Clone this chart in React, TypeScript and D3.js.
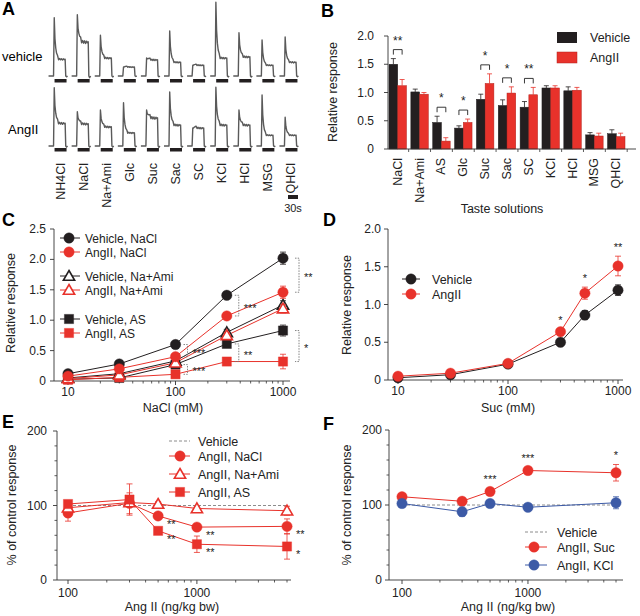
import * as d3 from 'd3';

const FONT = '"Liberation Sans", Arial, Helvetica, sans-serif';
const BLACK = '#231f20';
const RED = '#e8322b';
const BLUE = '#3c5aa6';
const GREY = '#8c8c8c';
const INK = '#222';

// ---- A: example traces (amplitudes in arbitrary units) ----
const TASTES_A = ['NH4Cl', 'NaCl', 'Na+Ami', 'Glc', 'Suc', 'Sac', 'SC', 'KCl', 'HCl', 'MSG', 'QHCl'];
const VEH_PEAK = [0.97, 1.02, 0.68, 0.15, 0.3, 0.75, 0.18, 1.23, 0.72, 0.6, 0.65];
const VEH_PLATEAU = [0.28, 0.57, 0.3, 0.15, 0.27, 0.23, 0.18, 0.3, 0.32, 0.18, 0.23];
const ANG_PEAK = [0.97, 0.57, 0.6, 0.72, 0.6, 0.9, 0.3, 0.98, 0.6, 0.85, 0.48];
const ANG_PLATEAU = [0.38, 0.37, 0.32, 0.22, 0.47, 0.35, 0.3, 0.35, 0.35, 0.18, 0.18];
// trace template: time offset (px), weight of peak, weight of plateau
const TPL_T = [-12, -7, -6.3, -5.6, -4.8, -4, -3, -2, -1, 0, 1, 2, 3, 4, 4.6, 5.2, 6, 7];
const TPL_P = [0, 0, 1, 0.5, 0.25, 0.12, 0.05, 0, 0, 0, 0, 0, 0, 0, 0, 0, 0, 0];
const TPL_Q = [0, 0, 0, 0.5, 0.8, 0.95, 1.05, 0.97, 1.04, 0.96, 1.03, 0.95, 1.02, 0.97, 1.0, 0, -0.05, 0];

// ---- B: bar chart ----
const TASTES_B = ['NaCl', 'Na+Ami', 'AS', 'Glc', 'Suc', 'Sac', 'SC', 'KCl', 'HCl', 'MSG', 'QHCl'];
const VEH_B = [1.5, 1.01, 0.47, 0.37, 0.88, 0.77, 0.74, 1.08, 1.03, 0.25, 0.27];
const VEH_B_ERR = [0.1, 0.05, 0.11, 0.04, 0.09, 0.1, 0.1, 0.04, 0.07, 0.04, 0.07];
const ANG_B = [1.12, 0.97, 0.14, 0.47, 1.16, 0.99, 0.96, 1.08, 1.04, 0.23, 0.22];
const ANG_B_ERR = [0.11, 0.03, 0.06, 0.06, 0.17, 0.11, 0.13, 0.04, 0.05, 0.05, 0.06];
const SIG_B = ['**', '', '*', '*', '*', '*', '**', '', '', '', ''];
const TICKS_B = [0, 0.5, 1, 1.5, 2];

// ---- C: NaCl concentration series ----
const C_X = [10, 30, 100, 300, 1000];
const C_VEH_NACL = [0.12, 0.28, 0.6, 1.41, 2.02];
const C_ANG_NACL = [0.08, 0.2, 0.4, 1.07, 1.46];
const C_VEH_NAAMI = [0.05, 0.12, 0.33, 0.8, 1.25];
const C_ANG_NAAMI = [0.04, 0.1, 0.3, 0.75, 1.19];
const C_VEH_AS = [0.03, 0.05, 0.27, 0.61, 0.83];
const C_ANG_AS = [0.02, 0.06, 0.11, 0.32, 0.32];
const C_ERR = [
  [0.02, 0.03, 0.03, 0.05, 0.1],
  [0.02, 0.02, 0.03, 0.05, 0.1],
  [0.01, 0.02, 0.03, 0.05, 0.07],
  [0.01, 0.02, 0.03, 0.05, 0.07],
  [0.01, 0.02, 0.03, 0.05, 0.09],
  [0.01, 0.02, 0.03, 0.04, 0.12],
];
const C_LABELS = ['Vehicle, NaCl', 'AngII, NaCl', 'Vehicle, Na+Ami', 'AngII, Na+Ami', 'Vehicle, AS', 'AngII, AS'];
const C_TICKS = [0, 0.5, 1, 1.5, 2, 2.5];
const C_BRACKETS = [
  { at: 1000, a: 0, b: 1, mark: '**' },
  { at: 300, a: 0, b: 1, mark: '***' },
  { at: 100, a: 0, b: 1, mark: '***' },
  { at: 100, a: 4, b: 5, mark: '***' },
  { at: 300, a: 4, b: 5, mark: '**' },
  { at: 1000, a: 4, b: 5, mark: '*' },
];

// ---- D: sucrose series ----
const D_X = [10, 30, 100, 300, 500, 1000];
const D_VEH = [0.03, 0.07, 0.21, 0.5, 0.86, 1.19];
const D_VEH_ERR = [0.01, 0.02, 0.02, 0.03, 0.06, 0.07];
const D_ANG = [0.05, 0.09, 0.22, 0.64, 1.15, 1.51];
const D_ANG_ERR = [0.02, 0.02, 0.03, 0.04, 0.08, 0.13];
const D_SIG = ['', '', '', '*', '*', '**'];
const D_TICKS = [0, 0.5, 1, 1.5, 2];

// ---- E / F: Ang II dose series ----
const DOSE = [100, 300, 500, 1000, 5000];
const E_NACL = [90, 103, 86, 71, 72];
const E_NACL_ERR = [11, 14, 4, 4, 10];
const E_NAAMI = [97, 104, 102, 96, 93];
const E_NAAMI_ERR = [3, 5, 3, 3, 6];
const E_AS = [102, 108, 66, 48, 45];
const E_AS_ERR = [4, 21, 4, 11, 17];
const E_SIG_NACL = ['', '', '**', '**', '**'];
const E_SIG_AS = ['', '', '**', '**', '*'];
const F_SUC = [111, 105, 118, 146, 143];
const F_SUC_ERR = [3, 4, 3, 4, 11];
const F_KCL = [102, 91, 102, 97, 103];
const F_KCL_ERR = [3, 6, 3, 3, 8];
const F_SIG_SUC = ['', '', '***', '***', '*'];
const PCT_TICKS = [0, 100, 200];
const PCT_MINOR = [20, 40, 60, 80, 120, 140, 160, 180];

type Shape = 'circle' | 'square' | 'triangle';

function Mark({ shape, x, y, color, open = false }: { shape: Shape; x: number; y: number; color: string; open?: boolean }) {
  const sym = shape === 'circle' ? d3.symbolCircle : shape === 'square' ? d3.symbolSquare : d3.symbolTriangle;
  const size = shape === 'circle' ? 85 : shape === 'square' ? 85 : 55;
  const d = d3.symbol(sym, size)() ?? '';
  return (
    <path
      d={d}
      transform={`translate(${x},${y + (shape === 'triangle' ? 1 : 0)})`}
      fill={open ? 'white' : color}
      stroke={color}
      strokeWidth={open ? 1.6 : 0.4}
    />
  );
}

function ErrBar({ x, y1, y2, color, cap = 3 }: { x: number; y1: number; y2: number; color: string; cap?: number }) {
  return (
    <g stroke={color} strokeWidth={0.8} fill="none">
      <line x1={x} x2={x} y1={y1} y2={y2} />
      <line x1={x - cap} x2={x + cap} y1={y1} y2={y1} />
      <line x1={x - cap} x2={x + cap} y1={y2} y2={y2} />
    </g>
  );
}

function YAxis({
  scale, x, ticks, minor = [], fmt, gap,
}: {
  scale: d3.ScaleLinear<number, number>; x: number; ticks: number[]; minor?: number[];
  fmt: (v: number) => string; gap: number;
}) {
  const [d0, d1] = scale.domain();
  return (
    <g fontFamily={FONT} fontSize={12} fill={INK}>
      <line x1={x} x2={x} y1={scale(d0)} y2={scale(d1)} stroke="#333" strokeWidth={0.9} />
      {ticks.map((t) => (
        <g key={t}>
          <line x1={x - 4} x2={x} y1={scale(t)} y2={scale(t)} stroke="#333" strokeWidth={0.9} />
          <text x={x - gap} y={scale(t) + 4} textAnchor="end">{fmt(t)}</text>
        </g>
      ))}
      {minor.map((t) => (
        <line key={'m' + t} x1={x - 2.5} x2={x} y1={scale(t)} y2={scale(t)} stroke="#333" strokeWidth={0.8} />
      ))}
    </g>
  );
}

function XLogAxis({
  scale, y, x0, x1, majors, minors, labelY,
}: {
  scale: d3.ScaleLogarithmic<number, number>; y: number; x0: number; x1: number;
  majors: number[]; minors: number[]; labelY: number;
}) {
  return (
    <g fontFamily={FONT} fontSize={12} fill={INK}>
      <line x1={x0} x2={x1} y1={y} y2={y} stroke="#333" strokeWidth={0.9} />
      {majors.map((t) => (
        <g key={t}>
          <line x1={scale(t)} x2={scale(t)} y1={y} y2={y + 4} stroke="#333" strokeWidth={0.9} />
          <text x={scale(t)} y={labelY} textAnchor="middle">{t}</text>
        </g>
      ))}
      {minors.map((t) => (
        <line key={'m' + t} x1={scale(t)} x2={scale(t)} y1={y} y2={y + 2.5} stroke="#333" strokeWidth={0.8} />
      ))}
    </g>
  );
}

const fmt1 = (v: number) => (v === 0 ? '0' : v.toFixed(1));
const fmt0 = (v: number) => String(v);

function PanelA() {
  const xA = d3.scaleBand<string>().domain(TASTES_A).range([49, 303]);
  const yVeh = d3.scaleLinear().domain([0, 1]).range([76, 16]);
  const yAng = d3.scaleLinear().domain([0, 1]).range([146, 86]);
  const trace = (cx: number, peak: number, plat: number, y: d3.ScaleLinear<number, number>) =>
    d3.line<number>()
      .x((_, i) => cx + TPL_T[i])
      .y((_, i) => y(peak * TPL_P[i] + plat * TPL_Q[i]))(TPL_T) ?? '';
  return (
    <g>
      <text x={2} y={15} fontFamily={FONT} fontWeight="bold" fontSize={18}>A</text>
      <text x={2} y={61} fontFamily={FONT} fontSize={13}>vehicle</text>
      <text x={8} y={134} fontFamily={FONT} fontSize={13}>AngII</text>
      {TASTES_A.map((t, i) => {
        const cx = (xA(t) ?? 0) + xA.bandwidth() / 2;
        return (
          <g key={t}>
            <path d={trace(cx, VEH_PEAK[i], VEH_PLATEAU[i], yVeh)} fill="none" stroke="#5a5a5a" strokeWidth={1.4} strokeLinejoin="round" />
            <path d={trace(cx, ANG_PEAK[i], ANG_PLATEAU[i], yAng)} fill="none" stroke="#5a5a5a" strokeWidth={1.4} strokeLinejoin="round" />
            <rect x={cx - 6} y={79} width={12} height={3.5} fill={BLACK} />
            <rect x={cx - 6} y={148} width={12} height={3.5} fill={BLACK} />
            <text
              transform={`translate(${cx + 4},163) rotate(-90)`}
              textAnchor="end"
              fontFamily={FONT}
              fontSize={12.5}
              fill={INK}
            >
              {t}
            </text>
          </g>
        );
      })}
      <rect x={288} y={195} width={10} height={4} fill={BLACK} />
      <text x={293} y={212} textAnchor="middle" fontFamily={FONT} fontSize={11} fill={INK}>30s</text>
    </g>
  );
}

function PanelB() {
  const xB = d3.scaleBand<string>().domain(TASTES_B).range([389, 625]).paddingInner(0.2);
  const yB = d3.scaleLinear().domain([0, 2]).range([149, 36]);
  const bw = xB.bandwidth() / 2;
  const step = xB.step();
  return (
    <g>
      <text x={321} y={17} fontFamily={FONT} fontWeight="bold" fontSize={18}>B</text>
      {TASTES_B.map((t, i) => {
        const x0 = xB(t) ?? 0;
        const cv = x0 + bw / 2;
        const ca = x0 + bw * 1.5;
        const topV = yB(VEH_B[i] + VEH_B_ERR[i]);
        const topA = yB(ANG_B[i] + ANG_B_ERR[i]);
        const by = Math.min(topV, topA) - 9;
        return (
          <g key={t}>
            <rect x={x0} y={yB(VEH_B[i])} width={bw} height={yB(0) - yB(VEH_B[i])} fill={BLACK} stroke={BLACK} strokeWidth={0.5} />
            <rect x={x0 + bw} y={yB(ANG_B[i])} width={bw} height={yB(0) - yB(ANG_B[i])} fill={RED} stroke="#b3221c" strokeWidth={0.5} />
            <g stroke={BLACK} strokeWidth={0.8}>
              <line x1={cv} x2={cv} y1={yB(VEH_B[i])} y2={topV} />
              <line x1={cv - 2.5} x2={cv + 2.5} y1={topV} y2={topV} />
            </g>
            <g stroke={RED} strokeWidth={0.8}>
              <line x1={ca} x2={ca} y1={yB(ANG_B[i])} y2={topA} />
              <line x1={ca - 2.5} x2={ca + 2.5} y1={topA} y2={topA} />
            </g>
            {SIG_B[i] && (
              <g>
                <path d={`M${cv},${by + 5}V${by}H${ca}V${by + 5}`} fill="none" stroke={INK} strokeWidth={0.9} />
                <text x={(cv + ca) / 2} y={by - 5} textAnchor="middle" fontFamily={FONT} fontSize={12} fill={INK}>{SIG_B[i]}</text>
              </g>
            )}
            <line x1={x0 + xB.bandwidth() + step * 0.1} x2={x0 + xB.bandwidth() + step * 0.1} y1={149} y2={152} stroke="#333" strokeWidth={0.8} />
            <text transform={`translate(${x0 + xB.bandwidth() / 2 + 4},158) rotate(-90)`} textAnchor="end" fontFamily={FONT} fontSize={12.5} fill={INK}>{t}</text>
          </g>
        );
      })}
      <line x1={388} x2={636} y1={149} y2={149} stroke="#333" strokeWidth={0.9} />
      <YAxis scale={yB} x={388} ticks={TICKS_B} fmt={fmt1} gap={14} />
      <text transform="translate(337,92) rotate(-90)" textAnchor="middle" fontFamily={FONT} fontSize={12.5} fill={INK}>Relative response</text>
      <text x={502} y={213} textAnchor="middle" fontFamily={FONT} fontSize={12.5} fill={INK}>Taste solutions</text>
      <rect x={557} y={32} width={20} height={11} fill={BLACK} />
      <rect x={557} y={52} width={20} height={11} fill={RED} stroke="#b3221c" strokeWidth={0.5} />
      <text x={590} y={42} fontFamily={FONT} fontSize={12.5} fill={INK}>Vehicle</text>
      <text x={590} y={62} fontFamily={FONT} fontSize={12.5} fill={INK}>AngII</text>
    </g>
  );
}

function PanelC() {
  const xC = d3.scaleLog().domain([10, 1000]).range([68, 283]);
  const yC = d3.scaleLinear().domain([0, 2.5]).range([381, 229]);
  const vals = [C_VEH_NACL, C_ANG_NACL, C_VEH_NAAMI, C_ANG_NAAMI, C_VEH_AS, C_ANG_AS];
  const colors = [BLACK, RED, BLACK, RED, BLACK, RED];
  const shapes: Shape[] = ['circle', 'circle', 'triangle', 'triangle', 'square', 'square'];
  const open = [false, false, true, true, false, false];
  const legendY = [238, 252, 276, 290, 319, 333];
  const line = d3.line<number>().x((_, i) => xC(C_X[i])).y((v) => yC(v));
  const order = [4, 5, 2, 3, 0, 1];
  return (
    <g>
      <text x={2} y={226} fontFamily={FONT} fontWeight="bold" fontSize={18}>C</text>
      <YAxis scale={yC} x={54} ticks={C_TICKS} fmt={fmt1} gap={8} />
      <XLogAxis scale={xC} y={381} x0={54} x1={290} majors={[10, 100, 1000]}
        minors={[20, 30, 40, 50, 60, 70, 80, 90, 200, 300, 400, 500, 600, 700, 800, 900]} labelY={396} />
      {order.map((s) => (
        <path key={'l' + s} d={line(vals[s]) ?? ''} fill="none" stroke={colors[s]} strokeWidth={1} />
      ))}
      {order.map((s) => (
        <g key={'p' + s}>
          {vals[s].map((v, i) => (
            <ErrBar key={'e' + i} x={xC(C_X[i])} y1={yC(v + C_ERR[s][i])} y2={yC(v - C_ERR[s][i])} color={colors[s]} />
          ))}
          {vals[s].map((v, i) => (
            <Mark key={i} shape={shapes[s]} x={xC(C_X[i])} y={yC(v)} color={colors[s]} open={open[s]} />
          ))}
        </g>
      ))}
      {C_BRACKETS.map((b, k) => {
        const x = xC(b.at) + (b.at === 1000 ? 16 : 12);
        const i = C_X.indexOf(b.at);
        const y1 = yC(vals[b.a][i]);
        const y2 = yC(vals[b.b][i]);
        return (
          <g key={k}>
            <path d={`M${x - 4},${y1}H${x}V${y2}H${x - 4}`} fill="none" stroke="#777" strokeWidth={0.9} strokeDasharray="1.5,1.2" />
            <text x={x + 5} y={(y1 + y2) / 2 + 6} fontFamily={FONT} fontSize={11} fill={INK}>{b.mark}</text>
          </g>
        );
      })}
      {C_LABELS.map((lab, s) => (
        <g key={lab}>
          <line x1={60} x2={80} y1={legendY[s]} y2={legendY[s]} stroke={colors[s]} strokeWidth={1} />
          <Mark shape={shapes[s]} x={69} y={legendY[s]} color={colors[s]} open={open[s]} />
          <text x={85} y={legendY[s] + 4.5} fontFamily={FONT} fontSize={12} fill={INK}>{lab}</text>
        </g>
      ))}
      <text transform="translate(15,303) rotate(-90)" textAnchor="middle" fontFamily={FONT} fontSize={12.5} fill={INK}>Relative response</text>
      <text x={173} y={412} textAnchor="middle" fontFamily={FONT} fontSize={12.5} fill={INK}>NaCl (mM)</text>
    </g>
  );
}

function PanelD() {
  const xD = d3.scaleLog().domain([10, 1000]).range([398, 618]);
  const yD = d3.scaleLinear().domain([0, 2]).range([380, 229]);
  const line = d3.line<number>().x((_, i) => xD(D_X[i])).y((v) => yD(v));
  const series = [
    { vals: D_VEH, err: D_VEH_ERR, color: BLACK, label: 'Vehicle', ly: 279 },
    { vals: D_ANG, err: D_ANG_ERR, color: RED, label: 'AngII', ly: 294 },
  ];
  return (
    <g>
      <text x={323} y={226} fontFamily={FONT} fontWeight="bold" fontSize={18}>D</text>
      <YAxis scale={yD} x={388} ticks={D_TICKS} fmt={fmt1} gap={7} />
      <XLogAxis scale={xD} y={380} x0={388} x1={623} majors={[10, 100, 1000]}
        minors={[20, 30, 40, 50, 60, 70, 80, 90, 200, 300, 400, 500, 600, 700, 800, 900]} labelY={395} />
      {series.map((s) => (
        <g key={s.label}>
          <path d={line(s.vals) ?? ''} fill="none" stroke={s.color} strokeWidth={1} />
          {s.vals.map((v, i) => (
            <ErrBar key={'e' + i} x={xD(D_X[i])} y1={yD(v + s.err[i])} y2={yD(v - s.err[i])} color={s.color} />
          ))}
          {s.vals.map((v, i) => (
            <Mark key={i} shape="circle" x={xD(D_X[i])} y={yD(v)} color={s.color} />
          ))}
          <line x1={402} x2={420} y1={s.ly} y2={s.ly} stroke={s.color} strokeWidth={1} />
          <Mark shape="circle" x={411} y={s.ly} color={s.color} />
          <text x={432} y={s.ly + 4.5} fontFamily={FONT} fontSize={12.5} fill={INK}>{s.label}</text>
        </g>
      ))}
      {D_SIG.map((m, i) => m && (
        <text key={i} x={xD(D_X[i])} y={yD(D_ANG[i] + D_ANG_ERR[i]) - 5} textAnchor="middle" fontFamily={FONT} fontSize={11} fill={INK}>{m}</text>
      ))}
      <text transform="translate(351,305) rotate(-90)" textAnchor="middle" fontFamily={FONT} fontSize={12.5} fill={INK}>Relative response</text>
      <text x={508} y={412} textAnchor="middle" fontFamily={FONT} fontSize={12.5} fill={INK}>Suc (mM)</text>
    </g>
  );
}

const DOSE_MINORS = [200, 300, 400, 500, 600, 700, 800, 900, 2000, 3000, 4000, 5000];

function PanelE() {
  const xE = d3.scaleLog().domain([100, 5000]).range([68, 287]);
  const yE = d3.scaleLinear().domain([0, 200]).range([580, 431]);
  const line = d3.line<number>().x((_, i) => xE(DOSE[i])).y((v) => yE(v));
  const series = [
    { vals: E_NACL, err: E_NACL_ERR, shape: 'circle' as Shape, open: false, label: 'AngII, NaCl', ly: 456, sig: E_SIG_NACL },
    { vals: E_NAAMI, err: E_NAAMI_ERR, shape: 'triangle' as Shape, open: true, label: 'AngII, Na+Ami', ly: 474, sig: [] as string[] },
    { vals: E_AS, err: E_AS_ERR, shape: 'square' as Shape, open: false, label: 'AngII, AS', ly: 492, sig: E_SIG_AS },
  ];
  return (
    <g>
      <text x={2} y={428} fontFamily={FONT} fontWeight="bold" fontSize={18}>E</text>
      <YAxis scale={yE} x={57} ticks={PCT_TICKS} minor={PCT_MINOR} fmt={fmt0} gap={10} />
      <XLogAxis scale={xE} y={580} x0={57} x1={291} majors={[100, 1000]} minors={DOSE_MINORS} labelY={597} />
      <line x1={xE(100)} x2={xE(5000)} y1={yE(100)} y2={yE(100)} stroke={GREY} strokeWidth={1} strokeDasharray="3,2" />
      {series.map((s) => (
        <g key={s.label}>
          <path d={line(s.vals) ?? ''} fill="none" stroke={RED} strokeWidth={1} />
          {s.vals.map((v, i) => (
            <ErrBar key={'e' + i} x={xE(DOSE[i])} y1={yE(v + s.err[i])} y2={yE(v - s.err[i])} color={RED} />
          ))}
          {s.vals.map((v, i) => (
            <Mark key={i} shape={s.shape} x={xE(DOSE[i])} y={yE(v)} color={RED} open={s.open} />
          ))}
          {s.sig.map((m, i) => m && (
            <text key={'s' + i} x={xE(DOSE[i]) + 9} y={yE(s.vals[i]) + 12} fontFamily={FONT} fontSize={11} fill={INK}>{m}</text>
          ))}
          <line x1={169} x2={190} y1={s.ly} y2={s.ly} stroke={RED} strokeWidth={1} />
          <Mark shape={s.shape} x={180} y={s.ly} color={RED} open={s.open} />
          <text x={198} y={s.ly + 4.5} fontFamily={FONT} fontSize={12.5} fill={INK}>{s.label}</text>
        </g>
      ))}
      <line x1={169} x2={190} y1={441} y2={441} stroke={GREY} strokeWidth={1} strokeDasharray="3,2" />
      <text x={198} y={445.5} fontFamily={FONT} fontSize={12.5} fill={INK}>Vehicle</text>
      <text transform="translate(16,505) rotate(-90)" textAnchor="middle" fontFamily={FONT} fontSize={12.5} fill={INK}>% of control response</text>
      <text x={172} y={611} textAnchor="middle" fontFamily={FONT} fontSize={12.5} fill={INK}>Ang II (ng/kg bw)</text>
    </g>
  );
}

function PanelF() {
  const xF = d3.scaleLog().domain([100, 5000]).range([402, 616]);
  const yF = d3.scaleLinear().domain([0, 200]).range([580, 430]);
  const line = d3.line<number>().x((_, i) => xF(DOSE[i])).y((v) => yF(v));
  const series = [
    { vals: F_SUC, err: F_SUC_ERR, color: RED, label: 'AngII, Suc', ly: 547 },
    { vals: F_KCL, err: F_KCL_ERR, color: BLUE, label: 'AngII, KCl', ly: 565 },
  ];
  return (
    <g>
      <text x={323} y={430} fontFamily={FONT} fontWeight="bold" fontSize={18}>F</text>
      <YAxis scale={yF} x={389} ticks={PCT_TICKS} minor={PCT_MINOR} fmt={fmt0} gap={7} />
      <XLogAxis scale={xF} y={580} x0={389} x1={623} majors={[100, 1000]} minors={DOSE_MINORS} labelY={597} />
      <line x1={xF(100)} x2={xF(5000)} y1={yF(100)} y2={yF(100)} stroke={GREY} strokeWidth={1} strokeDasharray="3,2" />
      {series.map((s) => (
        <g key={s.label}>
          <path d={line(s.vals) ?? ''} fill="none" stroke={s.color} strokeWidth={1} />
          {s.vals.map((v, i) => (
            <ErrBar key={'e' + i} x={xF(DOSE[i])} y1={yF(v + s.err[i])} y2={yF(v - s.err[i])} color={s.color} />
          ))}
          {s.vals.map((v, i) => (
            <Mark key={i} shape="circle" x={xF(DOSE[i])} y={yF(v)} color={s.color} />
          ))}
          <line x1={525} x2={547} y1={s.ly} y2={s.ly} stroke={s.color} strokeWidth={1} />
          <Mark shape="circle" x={534} y={s.ly} color={s.color} />
          <text x={557} y={s.ly + 4.5} fontFamily={FONT} fontSize={12.5} fill={INK}>{s.label}</text>
        </g>
      ))}
      {F_SIG_SUC.map((m, i) => m && (
        <text key={i} x={xF(DOSE[i])} y={yF(F_SUC[i] + F_SUC_ERR[i]) - 6} textAnchor="middle" fontFamily={FONT} fontSize={11} fill={INK}>{m}</text>
      ))}
      <line x1={525} x2={547} y1={532} y2={532} stroke={GREY} strokeWidth={1} strokeDasharray="3,2" />
      <text x={557} y={536.5} fontFamily={FONT} fontSize={12.5} fill={INK}>Vehicle</text>
      <text transform="translate(351,505) rotate(-90)" textAnchor="middle" fontFamily={FONT} fontSize={12.5} fill={INK}>% of control response</text>
      <text x={508} y={611} textAnchor="middle" fontFamily={FONT} fontSize={12.5} fill={INK}>Ang II (ng/kg bw)</text>
    </g>
  );
}

export default function App() {
  return (
    <svg
      width={640}
      height={616}
      viewBox="0 0 640 616"
      style={{ position: 'absolute', left: 0, top: 0, background: 'white' }}
    >
      <rect width={640} height={616} fill="white" />
      <PanelA />
      <PanelB />
      <PanelC />
      <PanelD />
      <PanelE />
      <PanelF />
    </svg>
  );
}
